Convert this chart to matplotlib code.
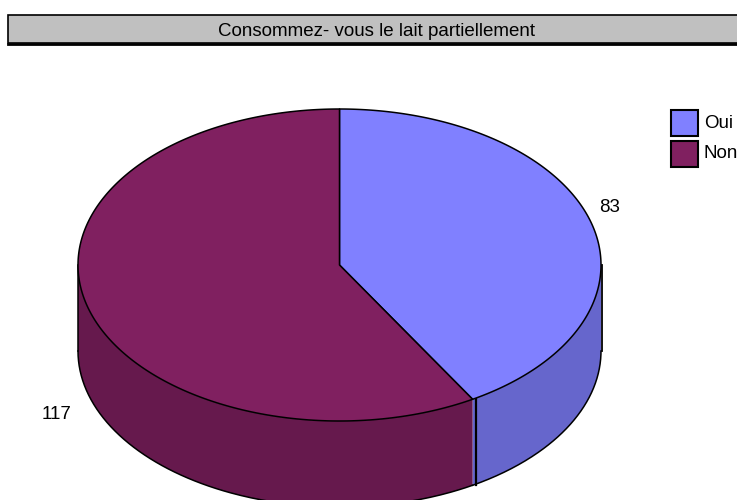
import numpy as np
import matplotlib
matplotlib.use("Agg")
import matplotlib.pyplot as plt
from matplotlib.patches import Polygon, Rectangle

# ---- data ----
title = "Consommez- vous le lait partiellement"
categories = ["Oui", "Non"]
values = [83, 117]
top_colors = ["#8080FF", "#802060"]
side_colors = ["#6666CC", "#66194D"]

# ---- layout (pixels) ----
W, H = 737, 500
cx, cy = 339.5, 265.0
rx, ry = 261.5, 156.0
depth = 86.0
label_offsets = [(0, -13), (0, 103)]   # extra offsets applied after radial placement
label_k = [1.07, 1.12]

plt.rcParams['font.family'] = ['Liberation Sans', 'DejaVu Sans']

fig = plt.figure(figsize=(W / 100, H / 100), dpi=100)
ax = fig.add_axes([0, 0, 1, 1])
ax.set_xlim(0, W)
ax.set_ylim(H, 0)
ax.axis('off')

total = float(sum(values))
bounds = np.concatenate([[0], np.cumsum(values)]) / total * 2 * np.pi


def pt(t, dz=0.0):
    return cx + rx * np.sin(t), cy - ry * np.cos(t) + dz


# side walls (visible front half: t in [pi/2, 3pi/2])
for i in range(len(values)):
    a0, a1 = bounds[i], bounds[i + 1]
    s0, s1 = max(a0, np.pi / 2), min(a1, 3 * np.pi / 2)
    if s1 <= s0:
        continue
    t = np.linspace(s0, s1, 200)
    xs, ys = pt(t)
    xb, yb = pt(t[::-1], depth)
    poly = np.column_stack([np.concatenate([xs, xb]), np.concatenate([ys, yb])])
    ax.add_patch(Polygon(poly, closed=True, facecolor=side_colors[i],
                         edgecolor='none', zorder=1))
    ax.plot(xb, yb, color='black', lw=1.1, zorder=3)

# vertical edges: left, right, visible seams
x0, y0 = pt(3 * np.pi / 2)
ax.plot([x0, x0], [y0, y0 + depth], color='black', lw=1.1, zorder=3)
x0, y0 = pt(np.pi / 2)
ax.plot([x0 + 1.5, x0 + 1.5], [y0, y0 + depth], color='black', lw=1.3, zorder=3)
for b in bounds[1:-1]:
    if np.pi / 2 < b < 3 * np.pi / 2:
        x0, y0 = pt(b)
        ax.plot([x0 + 3, x0 + 3], [y0, y0 + depth], color='black', lw=1.6, zorder=3)

# top slices
for i in range(len(values)):
    t = np.linspace(bounds[i], bounds[i + 1], 300)
    xs, ys = pt(t)
    poly = np.column_stack([np.concatenate([[cx], xs]), np.concatenate([[cy], ys])])
    ax.add_patch(Polygon(poly, closed=True, facecolor=top_colors[i],
                         edgecolor='black', lw=1.1, zorder=4, joinstyle='round'))

# value labels
for i, v in enumerate(values):
    mid = (bounds[i] + bounds[i + 1]) / 2
    k = label_k[i]
    lx = cx + k * rx * np.sin(mid) + label_offsets[i][0]
    ly = cy - k * ry * np.cos(mid) + label_offsets[i][1]
    ax.text(lx, ly, str(v), ha='center', va='center', fontsize=13.5, zorder=5)

# title box
ax.add_patch(Rectangle((8, 15), 740, 28, facecolor='#C0C0C0', edgecolor='black',
                       lw=1.2, zorder=5, clip_on=False))
ax.plot([8, 748], [43.5, 43.5], color='black', lw=2, zorder=6)
ax.text(377, 31.5, title, ha='center', va='center', fontsize=13.5, zorder=6)

# legend
for i, c in enumerate(categories):
    y0 = 110 + i * 31
    ax.add_patch(Rectangle((671, y0), 27, 26, facecolor=top_colors[i],
                           edgecolor='black', lw=1.5, zorder=5))
    ax.text(704, y0 + 13, c, ha='left', va='center', fontsize=13.5, zorder=6)

fig.savefig("out.png", dpi=100)
